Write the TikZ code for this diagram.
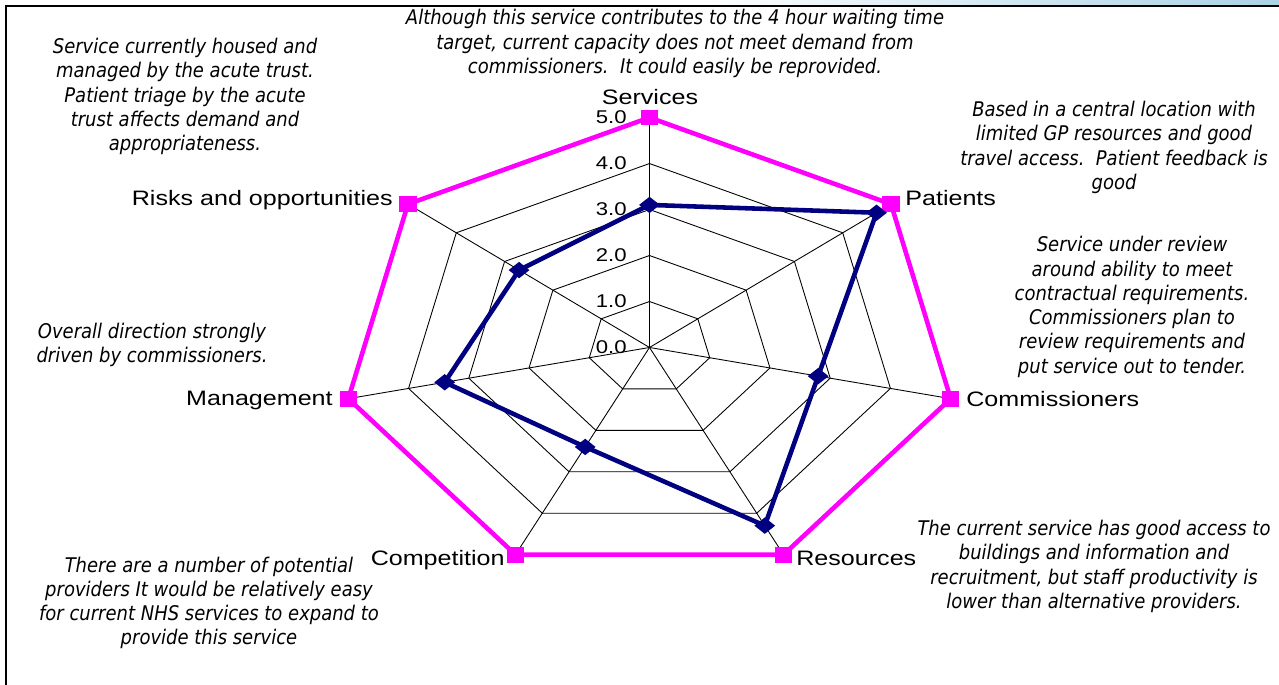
\documentclass[tikz,border=0pt]{standalone}
\usepackage{fontspec}
\usetikzlibrary{shapes.geometric}

\newfontfamily\axisfont[FakeStretch=1.2]{Liberation Sans}
\newfontfamily\notefont[FakeStretch=0.89]{DejaVu Sans}

\definecolor{chartpink}{RGB}{255,0,255}
\definecolor{chartnavy}{RGB}{0,0,128}
\definecolor{slideblue}{RGB}{170,210,228}

\tikzset{
  gridline/.style={black, line width=0.5pt},
  maxline/.style={chartpink, line width=2.6pt},
  scoreline/.style={chartnavy, line width=2.6pt},
  maxmark/.style={rectangle, fill=chartpink, minimum width=10pt, minimum height=9pt, inner sep=0pt},
  scoremark/.style={diamond, fill=chartnavy, minimum width=12pt, minimum height=9.5pt, inner sep=0pt},
  axislabel/.style={font=\axisfont\fontsize{11.9}{14}\selectfont, inner sep=0pt},
  ticklabel/.style={font=\axisfont\fontsize{10.5}{12}\selectfont, anchor=east, inner sep=0pt},
  note/.style={font=\notefont\itshape\fontsize{11.5}{13.8}\selectfont, align=center, inner sep=0pt}
}

\begin{document}
\begin{tikzpicture}[x=0.02cm, y=-0.02cm]
    \useasboundingbox (0,0) rectangle (1279,685);

    % Slide frame
    \shade[left color=white, right color=slideblue] (700,0) rectangle (1279,6);
    \draw[line width=1pt] (6,685) -- (6,6) -- (1279,6);

    % Radar chart
    \begin{scope}[shift={(649.5,347.5)}, x=1.236cm, y=0.92cm]
        % Rings and spokes
        \foreach \r in {1,...,5}
            \draw[gridline] (90:\r) \foreach \k in {1,...,6} {-- ({90-\k*360/7}:\r)} -- cycle;
        \foreach \k in {0,...,6}
            \draw[gridline] (0,0) -- ({90-\k*360/7}:5);

        % Scale
        \foreach \r in {0,...,5}
            \node[ticklabel] (tick\r) at (0,\r) [xshift=-0.45cm] {\r.0};

        % Maximum and scores
        \foreach \v [count=\k from 0] in {5,5,5,5,5,5,5}
            \coordinate (m\k) at ({90-\k*360/7}:\v);
        \foreach \v [count=\k from 0] in {3.1,4.7,2.8,4.3,2.4,3.4,2.7}
            \coordinate (s\k) at ({90-\k*360/7}:\v);

        \draw[maxline] (m0) -- (m1) -- (m2) -- (m3) -- (m4) -- (m5) -- (m6) -- cycle;
        \draw[scoreline] (s0) -- (s1) -- (s2) -- (s3) -- (s4) -- (s5) -- (s6) -- cycle;
        \foreach \k in {0,...,6} {
            \node[maxmark] (mm\k) at (m\k) {};
            \node[scoremark] (sm\k) at (s\k) {};
        }
    \end{scope}

    % Axis labels
    \node[axislabel, anchor=base] (services) at (650,105) {Services};
    \node[axislabel, anchor=base west] (patients) at (905,206) {Patients};
    \node[axislabel, anchor=base west] (commissioners) at (966,406.5) {Commissioners};
    \node[axislabel, anchor=base west] (resources) at (796,566) {Resources};
    \node[axislabel, anchor=base east] (competition) at (505,566) {Competition};
    \node[axislabel, anchor=base east] (management) at (333,405.5) {Management};
    \node[axislabel, anchor=base east] (risks) at (393,206) {Risks and opportunities};

    % Comments
    \node[note] (noteservices) at (675,43.5) {Although this service contributes to the 4 hour waiting time\\target, current capacity does not meet demand from\\commissioners.\ \ It could easily be reprovided.};
    \node[note] (noterisks) at (185,96.5) {Service currently housed and\\managed by the acute trust.\\Patient triage by the acute\\trust affects demand and\\appropriateness.};
    \node[note] (notepatients) at (1114,147.5) {Based in a central location with\\limited GP resources and good\\travel access.\ \ Patient feedback is\\good};
    \node[note] (notecommissioners) at (1132,307) {Service under review\\around ability to meet\\contractual requirements.\\Commissioners plan to\\review requirements and\\put service out to tender.};
    \node[note] (noteresources) at (1094,566.5) {The current service has good access to\\buildings and information and\\recruitment, but staff productivity is\\lower than alternative providers.};
    \node[note] (notecompetition) at (209,603) {There are a number of potential\\providers It would be relatively easy\\for current NHS services to expand to\\provide this service};
    \node[note] (notemanagement) at (152,345) {Overall direction strongly\\driven by commissioners.};
\end{tikzpicture}
\end{document}
